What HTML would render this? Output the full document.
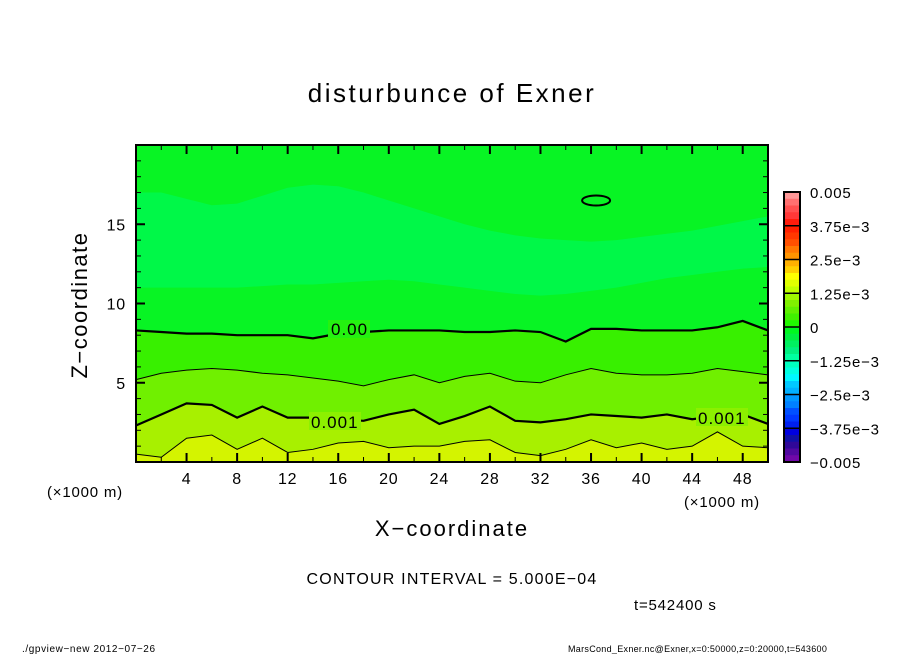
<!DOCTYPE html>
<html><head><meta charset="utf-8"><style>
body{margin:0;background:#fff;}
svg text{font-family:"Liberation Sans",sans-serif;fill:#000;}
</style></head><body>
<svg id="chart" width="904" height="654" viewBox="0 0 904 654">
<text x="452" y="102" font-size="26" letter-spacing="2.5" text-anchor="middle">disturbunce of Exner</text>
<g id="plot"></g>
<g id="axes"></g>
<g id="cbar"></g>
<text x="87" y="305" font-size="22" letter-spacing="1.5" text-anchor="middle" transform="rotate(-90 87 305)">Z−coordinate</text>
<text x="452" y="536" font-size="22" letter-spacing="2" text-anchor="middle">X−coordinate</text>
<text x="47" y="497" font-size="15" letter-spacing="0.8">(×1000 m)</text>
<text x="684" y="507" font-size="15" letter-spacing="0.8">(×1000 m)</text>
<text x="452" y="584" font-size="16" letter-spacing="1.2" text-anchor="middle">CONTOUR INTERVAL = 5.000E−04</text>
<text x="634" y="610" font-size="15" letter-spacing="0.8">t=542400 s</text>
<text x="22" y="652" font-size="10" letter-spacing="0.6">./gpview−new  2012−07−26</text>
<text x="568" y="652" font-size="9" letter-spacing="0.3">MarsCond_Exner.nc@Exner,x=0:50000,z=0:20000,t=543600</text>
</svg>
<script>
const xs=[0,2,4,6,8,10,12,14,16,18,20,22,24,26,28,30,32,34,36,38,40,42,44,46,48,50];
const c0000=[8.3,8.2,8.1,8.1,8.0,8.0,8.0,7.8,8.1,8.2,8.3,8.3,8.3,8.2,8.2,8.3,8.2,7.6,8.4,8.4,8.3,8.3,8.3,8.5,8.9,8.3];
const c0005=[5.2,5.6,5.8,5.9,5.8,5.6,5.5,5.3,5.1,4.8,5.2,5.5,5.0,5.4,5.6,5.1,5.0,5.5,5.9,5.6,5.5,5.5,5.6,5.9,5.7,5.5];
const c0010=[2.3,3.0,3.7,3.6,2.8,3.5,2.8,2.8,2.7,2.6,3.0,3.3,2.4,2.9,3.5,2.6,2.5,2.7,3.0,2.9,2.8,3.0,2.7,2.9,3.0,2.4];
const c0015=[0.5,0.3,1.5,1.7,0.8,1.5,0.6,0.8,1.2,1.3,0.9,1.0,1.0,1.3,1.4,0.6,0.4,0.8,1.4,0.9,1.2,0.8,1.0,1.9,1.0,0.9];
const bandLow=[11.0,11.0,11.0,11.0,11.0,11.1,11.2,11.2,11.3,11.4,11.5,11.4,11.2,11.0,10.8,10.6,10.5,10.6,10.8,11.0,11.3,11.6,11.8,12.0,12.2,12.3];
const bandHigh=[17.0,17.0,16.6,16.2,16.3,16.8,17.3,17.5,17.4,17.0,16.5,16.0,15.5,15.0,14.6,14.3,14.1,14.0,13.9,14.0,14.2,14.4,14.6,14.9,15.2,15.5];
const xTicks=[4,8,12,16,20,24,28,32,36,40,44,48];
const yTicks=[5,10,15];
const cbLabels=["0.005","3.75e−3","2.5e−3","1.25e−3","0","−1.25e−3","−2.5e−3","−3.75e−3","−0.005"];
const cbColors=["#ff9898","#ff7070","#ff5050","#ff3838","#ff1c0c","#ff2000","#ff3800","#ff5000","#ff7800","#ff9400","#ffb000","#ffd000","#ffff00","#e0ff00","#c0ff00","#a0f800","#80f000","#60f000","#40f000","#20f800","#00f820","#00f040","#00f060","#00f080","#00ffa0","#00ffc0","#00ffe0","#00f8ff","#00c8ff","#00b0ff","#0098ff","#0080ff","#0050ff","#0038ff","#0020f0","#0000e0","#1010a8","#300898","#5008a0","#7008a8"];
const NS="http://www.w3.org/2000/svg";
const X0=136,X1=768,Y0=462,Y1=145;
const sx=v=>X0+(v/50)*(X1-X0);
const sy=v=>Y0-(v/20)*(Y0-Y1);
function el(t,a,p){const e=document.createElementNS(NS,t);for(const k in a)e.setAttribute(k,a[k]);p.appendChild(e);return e;}
const plot=document.getElementById('plot'),axes=document.getElementById('axes'),cbar=document.getElementById('cbar');
function line(arr){return xs.map((x,i)=>sx(x)+','+sy(arr[i])).join(' ');}
function band(top,bot,col,name){
  let pts=xs.map((x,i)=>sx(x)+','+sy(top?top[i]:20));
  pts=pts.concat(xs.slice().reverse().map((x,j)=>{const i=xs.length-1-j;return sx(x)+','+sy(bot?bot[i]:0);}));
  const p=el('polygon',{points:pts.join(' '),fill:col},plot);
  
  
}
band(null,null,'#08f424','field-background');
band(bandHigh,bandLow,'#00f848','band-minus-low');
band(c0000,c0005,'#38f000','band-0-0005');
band(c0005,c0010,'#70f000','band-0005-0010');
band(c0010,c0015,'#a8f000','band-0010-0015');
band(c0015,null,'#d4f400','band-above-0015');
[[c0000,2.2,'contour-0'],[c0005,1,'contour-0005'],[c0010,2.2,'contour-0010'],[c0015,1,'contour-0015']].forEach(([a,w,n])=>{
  const p=el('polyline',{points:line(a),fill:'none',stroke:'#000','stroke-width':w},plot);
  
  
});
const l1=el('rect',{x:328,y:320,width:42,height:18,fill:'#24f210'},plot);


const t1=el('text',{x:331,y:335,'font-size':17,'letter-spacing':1},plot);t1.textContent='0.00';


const g2=el('rect',{x:309,y:412,width:52,height:18,fill:'#8cf000'},plot);


const t2=el('text',{x:311,y:428,'font-size':17,'letter-spacing':1},plot);t2.textContent='0.001';


const g3=el('rect',{x:696,y:408,width:52,height:18,fill:'#8cf000'},plot);


const t3=el('text',{x:698,y:424,'font-size':17,'letter-spacing':1},plot);t3.textContent='0.001';


const ov=el('ellipse',{cx:sx(36.4),cy:sy(16.5),rx:14,ry:5,fill:'none',stroke:'#000','stroke-width':2},plot);


const fr=el('rect',{x:X0,y:Y1,width:X1-X0,height:Y0-Y1,fill:'none',stroke:'#000','stroke-width':2},axes);


for(let v=1;v<50;v++){const big=v%4===0;const sm=v%2===0;if(!sm&&!big)continue;const len=big?9:5;
  el('line',{x1:sx(v),x2:sx(v),y1:Y0,y2:Y0-len,stroke:'#000','stroke-width':big?2:1},axes);
  el('line',{x1:sx(v),x2:sx(v),y1:Y1,y2:Y1+len,stroke:'#000','stroke-width':big?2:1},axes);}
for(let v=1;v<20;v++){const big=v%5===0;const len=big?9:5;
  el('line',{x1:X0,x2:X0+len,y1:sy(v),y2:sy(v),stroke:'#000','stroke-width':big?2:1},axes);
  el('line',{x1:X1,x2:X1-len,y1:sy(v),y2:sy(v),stroke:'#000','stroke-width':big?2:1},axes);}
xTicks.forEach(v=>{const t=el('text',{x:sx(v),y:484,'font-size':16,'text-anchor':'middle','letter-spacing':0.8},axes);t.textContent=v;
  
  });
yTicks.forEach(v=>{const t=el('text',{x:126,y:sy(v)+6,'font-size':16,'text-anchor':'end','letter-spacing':0.8},axes);t.textContent=v;
  
  });
const CB0=192,CB1=462,CBX=784,CBW=16,n=cbColors.length,h=(CB1-CB0)/n;
cbColors.forEach((c,i)=>{const r=el('rect',{x:CBX,y:CB0+i*h,width:CBW,height:h+0.5,fill:c},cbar);
  
  });
for(let k=0;k<=8;k++){const y=CB0+k*(CB1-CB0)/8;el('line',{x1:CBX,x2:CBX+CBW,y1:y,y2:y,stroke:'#000','stroke-width':1.5},cbar);
  const t=el('text',{x:810,y:y+6,'font-size':15,'letter-spacing':0.8},cbar);t.textContent=cbLabels[k];
  
  }
el('rect',{x:CBX,y:CB0,width:CBW,height:CB1-CB0,fill:'none',stroke:'#000','stroke-width':2},cbar);
</script>
</body></html>
